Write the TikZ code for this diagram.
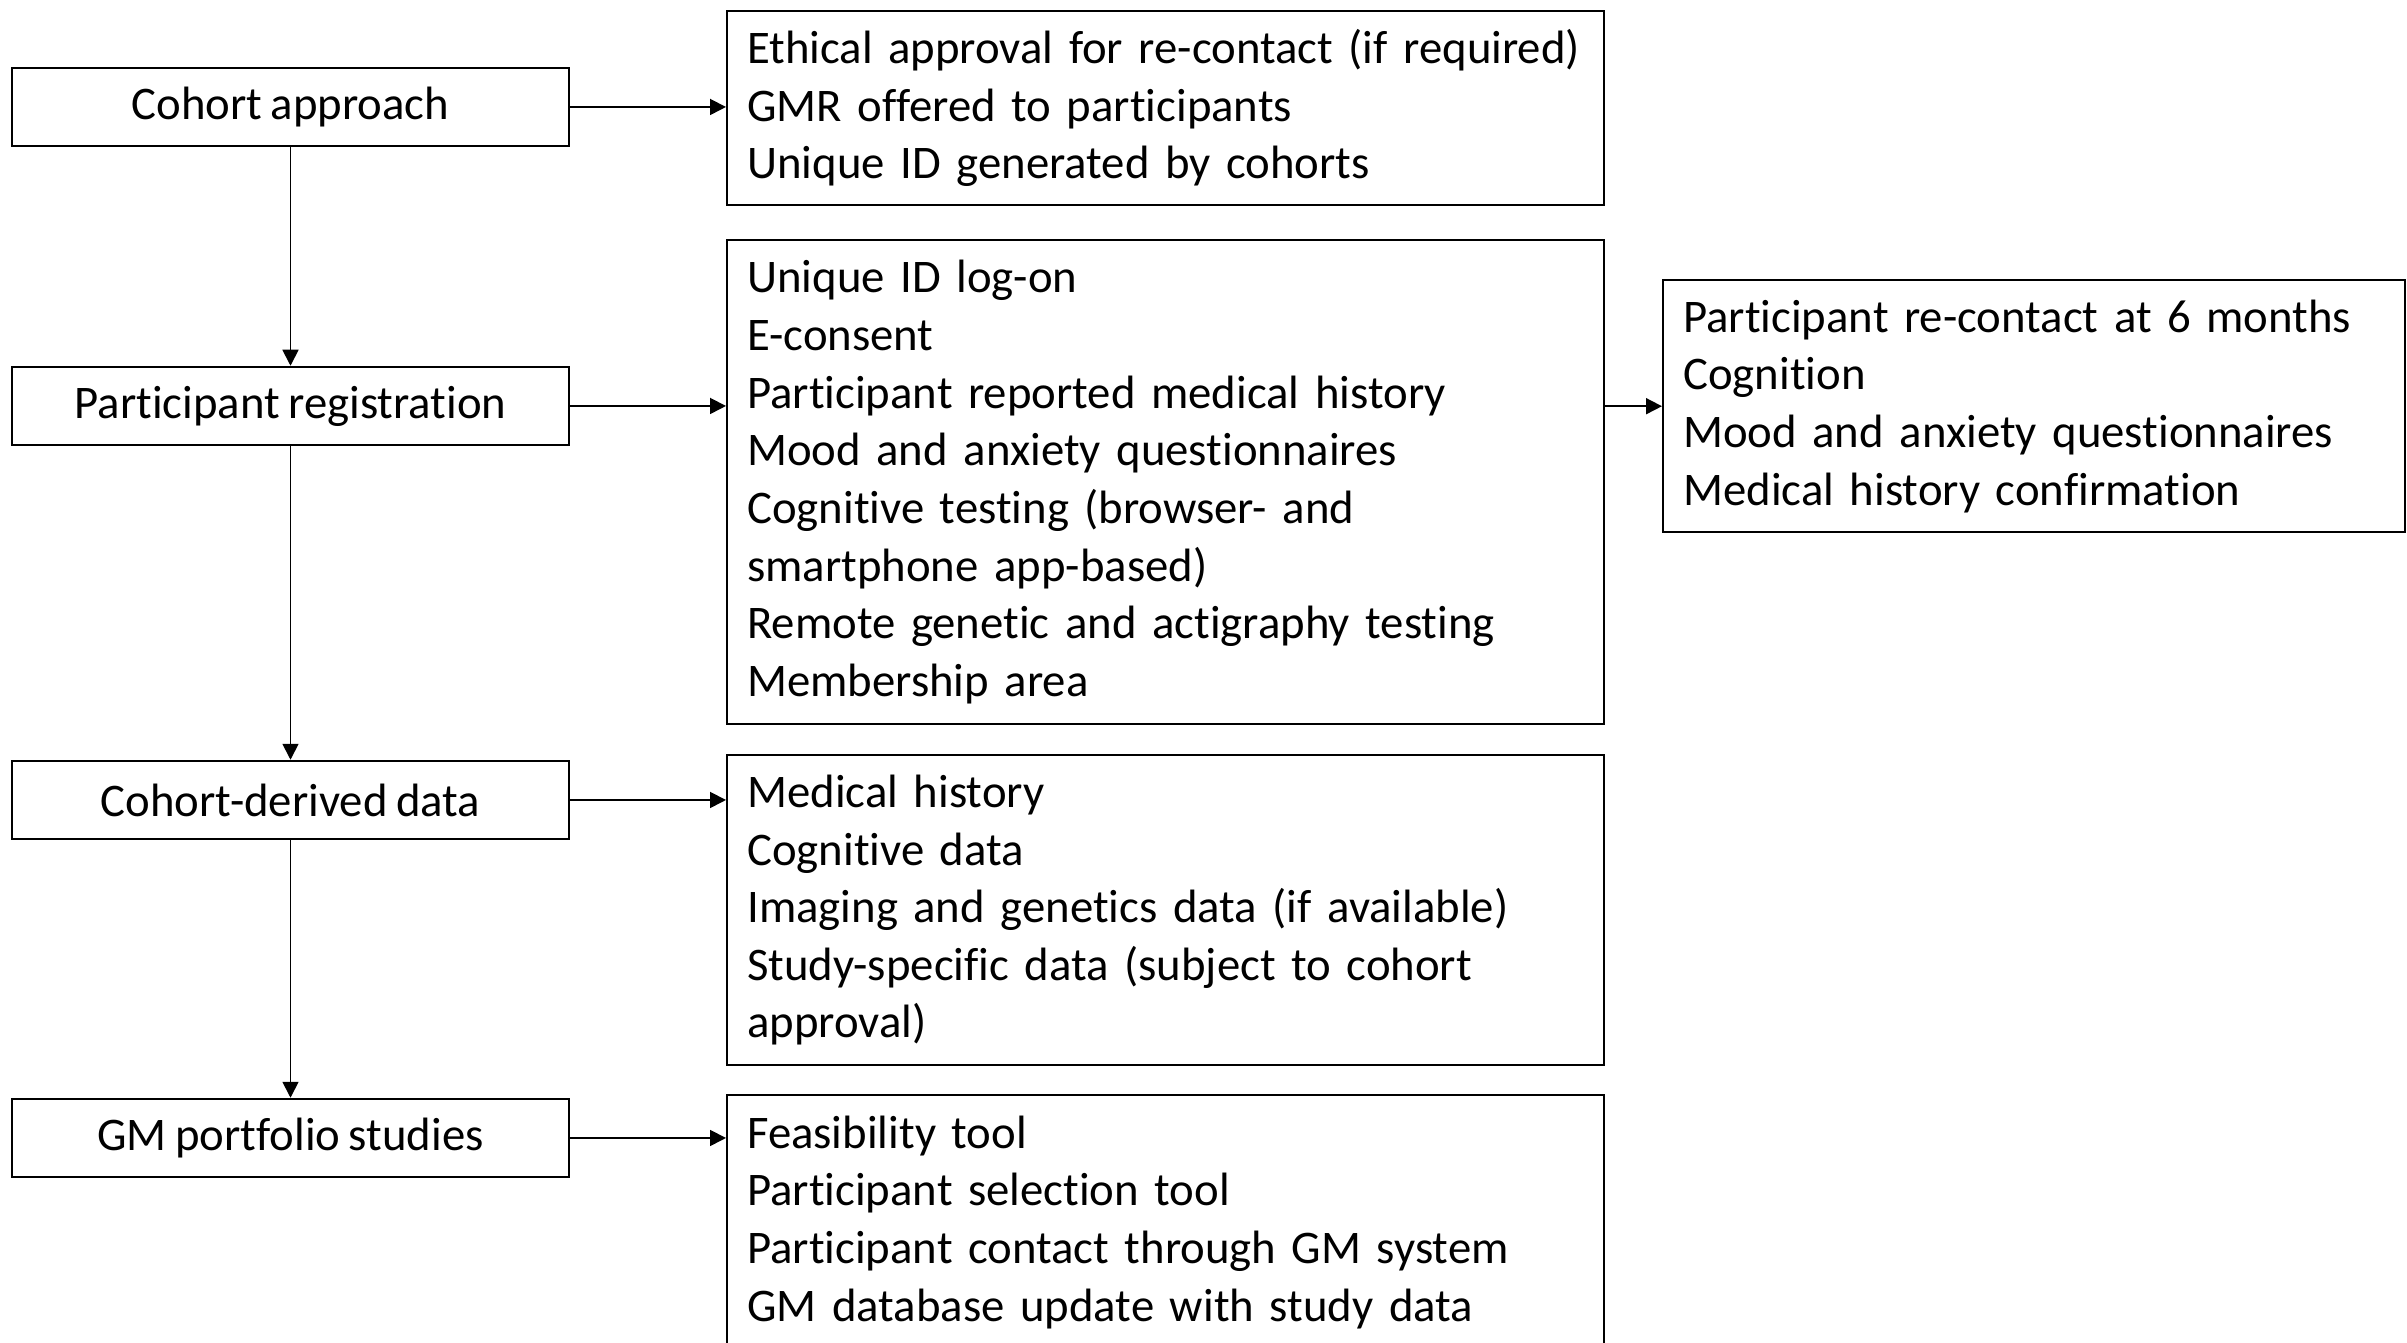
\documentclass[tikz,border=0pt]{standalone}
\usepackage{fontspec}
\setmainfont{Carlito}[Ligatures=NoCommon,WordSpace=0.8]
\usetikzlibrary{arrows.meta}

\begin{document}
\begin{tikzpicture}[
    stage/.style={draw,line width=0.7pt,minimum width=5.57cm,minimum height=0.78cm,inner sep=0pt,font=\fontsize{13.3}{16.4}\selectfont},
    detail/.style={draw,line width=0.7pt,anchor=north west,inner xsep=0.2cm,inner ysep=0pt,align=left,font=\fontsize{13.3}{16.4}\selectfont},
    flow/.style={-{Triangle[length=0.16cm,width=0.16cm]},line width=0.5pt}
]
\useasboundingbox (0,0) rectangle (24.07,13.43);
\clip (0,0) rectangle (24.07,13.43);

\node[stage] (approach) at (2.905,12.36) {Cohort approach};
\node[stage] (registration) at (2.905,9.37) {Participant registration};
\node[stage] (derived) at (2.905,5.43) {Cohort-derived data};
\node[stage] (portfolio) at (2.905,2.05) {GM portfolio studies};

\node[detail,text width=8.37cm,minimum height=1.94cm] (ethics) at (7.26,13.33)
    {Ethical approval for re-contact (if required)\\GMR offered to participants\\Unique ID generated by cohorts};
\node[detail,text width=8.37cm,minimum height=4.84cm] (online) at (7.26,11.04)
    {Unique ID log-on\\E-consent\\Participant reported medical history\\Mood and anxiety questionnaires\\Cognitive testing (browser- and\\smartphone app-based)\\Remote genetic and actigraphy testing\\Membership area};
\node[detail,text width=8.37cm,minimum height=3.10cm] (cohortdata) at (7.26,5.89)
    {Medical history\\Cognitive data\\Imaging and genetics data (if available)\\Study-specific data (subject to cohort\\approval)};
\node[detail,text width=8.37cm,minimum height=2.54cm] (tools) at (7.26,2.49)
    {Feasibility tool\\Participant selection tool\\Participant contact through GM system\\GM database update with study data};
\node[detail,text width=7.02cm,minimum height=2.52cm] (followup) at (16.62,10.64)
    {Participant re-contact at 6 months\\Cognition\\Mood and anxiety questionnaires\\Medical history confirmation};

\draw[flow] (approach.south) -- (registration.north);
\draw[flow] (registration.south) -- (derived.north);
\draw[flow] (derived.south) -- (portfolio.north);
\draw[flow] (approach.east) -- (approach.east -| ethics.west);
\draw[flow] (registration.east) -- (registration.east -| online.west);
\draw[flow] (derived.east) -- (derived.east -| cohortdata.west);
\draw[flow] (portfolio.east) -- (portfolio.east -| tools.west);
\draw[flow] (online.east |- followup.west) -- (followup.west);
\end{tikzpicture}
\end{document}
